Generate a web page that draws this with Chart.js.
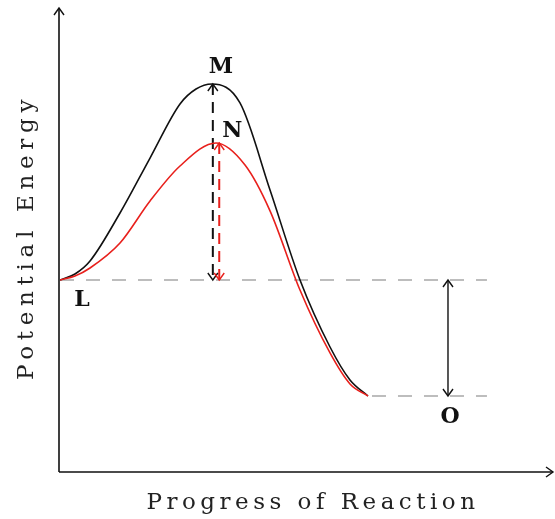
<!DOCTYPE html>
<html>
<head>
<meta charset="utf-8">
<script src="https://cdn.jsdelivr.net/npm/chart.js@4"></script>
<style>
  html, body { margin: 0; padding: 0; background: #fff; }
  #wrap { width: 555px; height: 519px; }
</style>
</head>
<body>
<div id="wrap"><canvas id="myChart"></canvas></div>
<script>
// progress (0-100) and potential energy (0-100)
const uncatX = [0, 3.04, 6.09, 12.17, 18.26, 24.34, 27.59, 30.83, 36.51, 42.60, 48.68, 54.77, 58.82, 62.47];
const uncatY = [41.38, 42.67, 45.47, 55.82, 67.67, 79.31, 82.54, 83.62, 79.53, 60.78, 41.38, 26.94, 19.83, 16.38];
const catX = [0, 3.04, 6.09, 12.17, 18.26, 24.34, 31.64, 37.53, 42.60, 48.68, 54.77, 58.82, 62.47];
const catY = [41.38, 42.24, 43.97, 49.35, 58.41, 65.95, 70.91, 66.16, 56.29, 39.22, 25.65, 18.97, 16.38];

const levelL = 41.38;   // reactants
const levelO = 16.38;   // products
const peakM = 83.62;
const peakN = 70.91;
const levelEndX = 86.6;
const productStartX = 62.47;
const deltaX = 78.7;
const peakMX = 31.0;
const peakNX = 32.3;

const toPts = (xs, ys) => xs.map((x, i) => ({ x: x, y: ys[i] }));

const arrowHead = (ctx, x, y, dir) => {
  // dir: 'up' | 'down' | 'right'
  const l = 7, w = 5;
  ctx.beginPath();
  if (dir === 'up') { ctx.moveTo(x - w, y + l); ctx.lineTo(x, y); ctx.lineTo(x + w, y + l); }
  if (dir === 'down') { ctx.moveTo(x - w, y - l); ctx.lineTo(x, y); ctx.lineTo(x + w, y - l); }
  if (dir === 'right') { ctx.moveTo(x - l, y - w); ctx.lineTo(x, y); ctx.lineTo(x - l, y + w); }
  ctx.stroke();
};

const energyDiagram = {
  id: 'energyDiagram',
  beforeDatasetsDraw(chart) {
    const { ctx, chartArea: a } = chart;
    ctx.save();
    ctx.strokeStyle = '#111';
    ctx.lineWidth = 1.6;
    ctx.beginPath();
    ctx.moveTo(a.left - 1, a.bottom);
    ctx.lineTo(a.left - 1, a.top);
    ctx.moveTo(a.left - 1, a.bottom);
    ctx.lineTo(a.right, a.bottom);
    ctx.stroke();
    ctx.lineWidth = 1.4;
    arrowHead(ctx, a.left - 1, a.top, 'up');
    arrowHead(ctx, a.right, a.bottom, 'right');

    ctx.fillStyle = '#222';
    ctx.font = '23px "DejaVu Serif"';
    ctx.letterSpacing = '4.5px';
    ctx.textAlign = 'center';
    ctx.textBaseline = 'middle';
    ctx.fillText('Progress of Reaction', 313, 503);
    ctx.letterSpacing = '5.7px';
    ctx.translate(27, 237);
    ctx.rotate(-Math.PI / 2);
    ctx.fillText('Potential Energy', 0, 0);
    ctx.restore();
  },
  afterDatasetsDraw(chart) {
    const { ctx } = chart;
    const xs = chart.scales.x, ys = chart.scales.y;
    ctx.save();
    ctx.lineWidth = 1.4;
    ctx.strokeStyle = '#111';
    arrowHead(ctx, xs.getPixelForValue(peakMX), ys.getPixelForValue(peakM), 'up');
    arrowHead(ctx, xs.getPixelForValue(peakMX), ys.getPixelForValue(levelL), 'down');
    arrowHead(ctx, xs.getPixelForValue(deltaX), ys.getPixelForValue(levelL), 'up');
    arrowHead(ctx, xs.getPixelForValue(deltaX), ys.getPixelForValue(levelO), 'down');
    ctx.strokeStyle = '#e8201c';
    arrowHead(ctx, xs.getPixelForValue(peakNX), ys.getPixelForValue(peakN), 'up');
    arrowHead(ctx, xs.getPixelForValue(peakNX), ys.getPixelForValue(levelL), 'down');

    ctx.fillStyle = '#111';
    ctx.font = 'bold 22px "DejaVu Serif"';
    ctx.textAlign = 'center';
    ctx.textBaseline = 'middle';
    ctx.fillText('M', xs.getPixelForValue(peakMX) + 8, ys.getPixelForValue(peakM) - 17);
    ctx.fillText('N', xs.getPixelForValue(peakNX) + 13, ys.getPixelForValue(peakN) - 12);
    ctx.fillText('L', xs.getPixelForValue(0) + 22, ys.getPixelForValue(levelL) + 20);
    ctx.fillText('O', xs.getPixelForValue(deltaX) + 2, ys.getPixelForValue(levelO) + 21);
    ctx.restore();
  }
};

const ctx = document.getElementById('myChart').getContext('2d');
const myChart = new Chart(ctx, {
  type: 'scatter',
  data: {
    datasets: [
      {
        label: 'uncatalysed',
        data: toPts(uncatX, uncatY),
        borderColor: '#111',
        borderWidth: 1.6,
        cubicInterpolationMode: 'monotone',
        order: 1
      },
      {
        label: 'catalysed',
        data: toPts(catX, catY),
        borderColor: '#e8201c',
        borderWidth: 1.6,
        cubicInterpolationMode: 'monotone',
        order: 0
      },
      {
        label: 'reactant level',
        data: [{ x: 0, y: levelL }, { x: levelEndX, y: levelL }],
        borderColor: '#bdbdbd',
        borderWidth: 2.2,
        borderDash: [14, 12],
        order: 5
      },
      {
        label: 'product level',
        data: [{ x: productStartX, y: levelO }, { x: levelEndX, y: levelO }],
        borderColor: '#bdbdbd',
        borderWidth: 2.2,
        borderDash: [14, 12],
        borderDashOffset: -4,
        order: 5
      },
      {
        label: 'Ea uncatalysed',
        data: [{ x: peakMX, y: peakM }, { x: peakMX, y: levelL }],
        borderColor: '#111',
        borderWidth: 2,
        borderDash: [11, 7],
        order: 3
      },
      {
        label: 'Ea catalysed',
        data: [{ x: peakNX, y: peakN }, { x: peakNX, y: levelL }],
        borderColor: '#e8201c',
        borderWidth: 2,
        borderDash: [11, 7],
        order: 2
      },
      {
        label: 'delta H',
        data: [{ x: deltaX, y: levelL }, { x: deltaX, y: levelO }],
        borderColor: '#111',
        borderWidth: 1.4,
        order: 4
      }
    ]
  },
  options: {
    responsive: true,
    maintainAspectRatio: false,
    animation: false,
    showLine: true,
    elements: { point: { radius: 0, hoverRadius: 0 } },
    layout: { padding: { left: 60, right: 2, top: 8, bottom: 47 } },
    plugins: { legend: { display: false }, tooltip: { enabled: false } },
    scales: {
      x: { type: 'linear', min: 0, max: 100, display: false },
      y: { type: 'linear', min: 0, max: 100, display: false }
    }
  },
  plugins: [energyDiagram]
});
</script>
</body>
</html>
